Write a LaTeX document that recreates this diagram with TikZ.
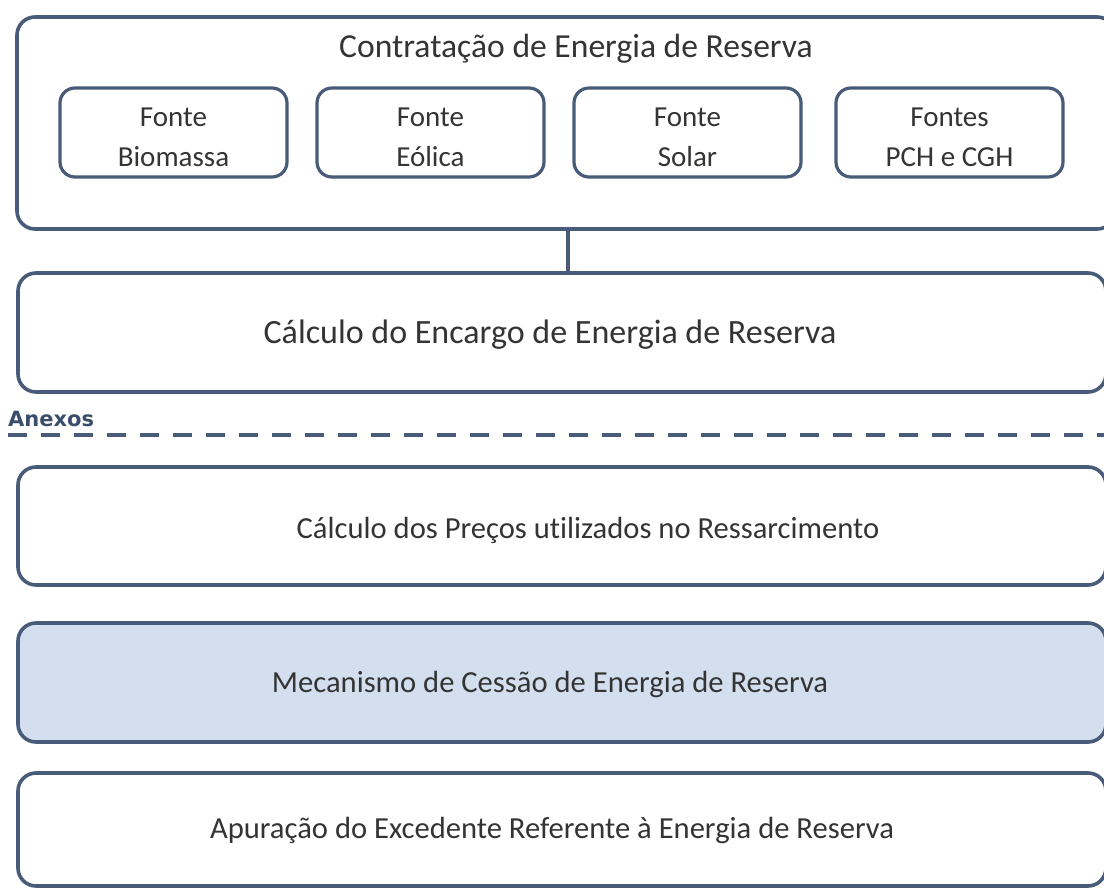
\documentclass[tikz,border=0pt]{standalone}
\usepackage{fontspec}
\setmainfont[Ligatures=NoCommon]{Carlito}
\newfontfamily\anexfont{DejaVu Sans}
\definecolor{edge}{RGB}{72,92,122}
\definecolor{ink}{RGB}{52,52,52}
\definecolor{fillblue}{RGB}{211,223,238}
\definecolor{anex}{RGB}{58,78,108}
\tikzset{
  bigbox/.style={draw=edge, line width=3.6pt, rounded corners=18pt, fill=white,
    inner sep=0pt, outer sep=0pt},
  subbox/.style={draw=edge, line width=3.2pt, rounded corners=15pt, fill=white,
    inner sep=0pt, outer sep=0pt, minimum width=227pt, minimum height=89pt,
    text=ink, align=center, font=\fontsize{29}{40}\selectfont},
  bigtext/.style={text=ink, font=\fontsize{34}{40}\selectfont, inner sep=0pt},
  annextext/.style={text=ink, font=\fontsize{30.6}{36}\selectfont, inner sep=0pt},
  link/.style={draw=edge, line width=3.6pt},
  sep/.style={draw=edge, line width=3.6pt, dash pattern=on 19pt off 14pt}
}
\begin{document}
\begin{tikzpicture}[x=1pt,y=-1pt]
\useasboundingbox (0,0) rectangle (1104,889);
\fill[white] (0,0) rectangle (1104,889);
\clip (0,0) rectangle (1104,889);
% top box
\node[bigbox, minimum width=1098pt, minimum height=212pt] (top) at (566,123) {};
\node[bigtext, font=\fontsize{33.6}{40}\selectfont] (toptitle) at (576,49) {Contratação de Energia de Reserva};
\node[subbox] (bio) at (173.5,132.5) {};
\node[subbox] (eol) at (430.5,132.5) {};
\node[subbox] (sol) at (687.5,132.5) {};
\node[subbox] (pch) at (949.5,132.5) {};
\node[subbox, draw=none, fill=none] (biot) at (173.5,137.5) {Fonte\\Biomassa};
\node[subbox, draw=none, fill=none] (eolt) at (430.5,137.5) {Fonte\\Eólica};
\node[subbox, draw=none, fill=none] (solt) at (687.5,137.5) {Fonte\\Solar};
\node[subbox, draw=none, fill=none] (pcht) at (949.5,137.5) {Fontes\\PCH e CGH};
% second box
\node[bigbox, minimum width=1088pt, minimum height=119pt] (enc) at (562,332.5) {};
\node[bigtext] (enctext) at (550,335) {Cálculo do Encargo de Energia de Reserva};
\coordinate (cx) at (568,0);
\draw[link] (top.south -| cx) -- (enc.north -| cx);
% separator
\node[text=anex, font=\anexfont\bfseries\fontsize{21}{24}\selectfont, anchor=base west, inner sep=0pt] (anexos) at (8,426) {Anexos};
\coordinate (sepL) at (8,435);
\coordinate (sepR) at (1110,435);
\draw[sep] (sepL) -- (sepR);
% annex boxes
\node[bigbox, minimum width=1088pt, minimum height=118pt] (prec) at (562,526) {};
\node[annextext] (prectext) at (588,530) {Cálculo dos Preços utilizados no Ressarcimento};
\node[bigbox, fill=fillblue, minimum width=1088pt, minimum height=119pt] (mec) at (562,682.5) {};
\node[annextext] (mectext) at (550,684) {Mecanismo de Cessão de Energia de Reserva};
\node[bigbox, minimum width=1088pt, minimum height=113pt] (apu) at (562,829.5) {};
\node[annextext] (aputext) at (552,830) {Apuração do Excedente Referente à Energia de Reserva};
\end{tikzpicture}
\end{document}
